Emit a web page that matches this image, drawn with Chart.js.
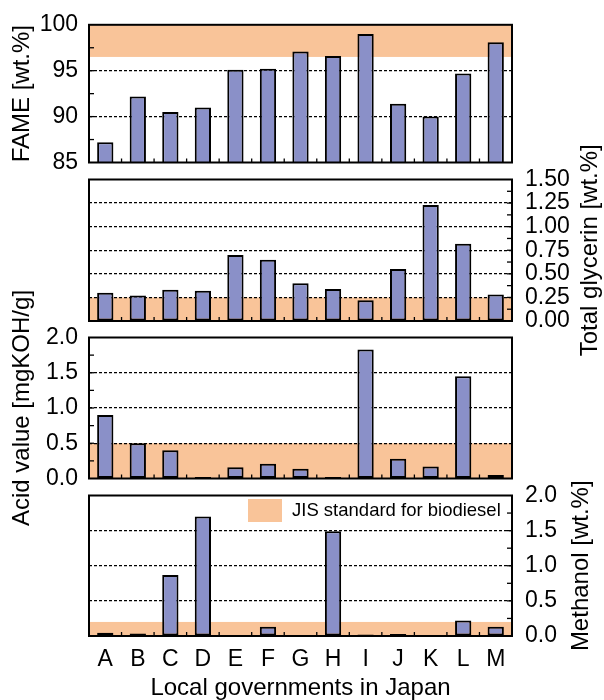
<!DOCTYPE html>
<html>
<head>
<meta charset="utf-8">
<title>Biodiesel quality by local government</title>
<script src="https://cdn.jsdelivr.net/npm/chart.js@4.4.1/dist/chart.umd.min.js"></script>
<style>
  body { margin: 0; background: #fff; }
  #wrap { position: relative; width: 604px; height: 700px; }
  #wrap canvas { position: absolute; left: 0; top: 0; }
</style>
</head>
<body>
<div id="wrap">
  <canvas id="fame" width="604" height="700"></canvas>
  <canvas id="glycerin" width="604" height="700"></canvas>
  <canvas id="acid" width="604" height="700"></canvas>
  <canvas id="methanol" width="604" height="700"></canvas>
</div>
<script>
//------------------ data ------------------//
const LABELS = ['A', 'B', 'C', 'D', 'E', 'F', 'G', 'H', 'I', 'J', 'K', 'L', 'M']
const FAME = [87.2, 92.2, 90.5, 91.0, 95.1, 95.2, 97.1, 96.6, 99.0, 91.4, 90.0, 94.7, 98.1]
const GLYCERIN = [0.30, 0.27, 0.33, 0.32, 0.70, 0.65, 0.40, 0.34, 0.22, 0.55, 1.23, 0.82, 0.28]
const ACID = [0.90, 0.50, 0.40, 0.02, 0.16, 0.21, 0.14, 0.02, 1.83, 0.28, 0.17, 1.45, 0.05]
const METHANOL = [0.045, 0.035, 0.87, 1.70, 0, 0.13, 0.01, 1.49, 0.02, 0.03, 0.01, 0.22, 0.13]

// JIS standard range [low, high]
const FAME_STD = [96.5, 100]
const GLYCERIN_STD = [0, 0.25]
const ACID_STD = [0, 0.5]
const METHANOL_STD = [0, 0.2]

// axis [min, max, step]
const FAME_AXIS = [85, 100, 5]
const GLYCERIN_AXIS = [0, 1.5, 0.25]
const ACID_AXIS = [0, 2, 0.5]
const METHANOL_AXIS = [0, 2, 0.5]

const X_TITLE = 'Local governments in Japan'
const LEGEND_TEXT = 'JIS standard for biodiesel'
//------------------------------------------//

const FONT = "'Liberation Sans', Arial, sans-serif"
const BAR_COLOR = '#8a90c8'
const STD_COLOR = '#f9c499'
const PLOT_LEFT = 89
const PLOT_RIGHT = 512

const PANELS = [
  { id: 'fame', data: FAME, std: FAME_STD, axis: FAME_AXIS, digits: 0, side: 'left',
    title: 'FAME [wt.%]', titleX: 22, top: 21.5, bottom: 162.5 },
  { id: 'glycerin', data: GLYCERIN, std: GLYCERIN_STD, axis: GLYCERIN_AXIS, digits: 2, side: 'right',
    title: 'Total glycerin [wt.%]', titleX: 590, top: 179.5, bottom: 321 },
  { id: 'acid', data: ACID, std: ACID_STD, axis: ACID_AXIS, digits: 1, side: 'left',
    title: 'Acid value [mgKOH/g]', titleX: 22, top: 337.5, bottom: 478.5 },
  { id: 'methanol', data: METHANOL, std: METHANOL_STD, axis: METHANOL_AXIS, digits: 1, side: 'right',
    title: 'Methanol [wt.%]', titleX: 581, top: 495.5, bottom: 636, last: true }
]

/*--------------------------------------------------------------------
band, inner ticks, frame and texts around each panel
--------------------------------------------------------------------*/
const panelDecor = {
  id: 'panelDecor',
  beforeDraw(chart, args, opts) {
    const { ctx, chartArea: a, scales: { y } } = chart
    const yHi = y.getPixelForValue(opts.std[1])
    const yLo = y.getPixelForValue(opts.std[0])
    ctx.save()
    ctx.fillStyle = STD_COLOR
    ctx.fillRect(a.left, yHi, a.right - a.left, yLo - yHi)
    ctx.restore()
  },
  afterDraw(chart, args, opts) {
    const { ctx, chartArea: a, scales: { x, y } } = chart
    const line = (x1, y1, x2, y2) => {
      ctx.beginPath(); ctx.moveTo(x1, y1); ctx.lineTo(x2, y2); ctx.stroke()
    }
    ctx.save()
    ctx.strokeStyle = '#000'
    ctx.lineWidth = 1.3

    // y ticks pointing inward, every half step
    const [min, max, step] = opts.axis
    const x0 = opts.side == 'left' ? a.left : a.right
    const dir = opts.side == 'left' ? 1 : -1
    for (let v = min + step / 2; v < max - 1e-9; v += step / 2) {
      const py = y.getPixelForValue(v)
      line(x0, py, x0 + dir * 5, py)
    }
    // x ticks between categories
    for (let i = 0; i < LABELS.length - 1; i++) {
      const px = (x.getPixelForValue(i) + x.getPixelForValue(i + 1)) / 2
      line(px, a.bottom, px, a.bottom - 4)
    }
    // frame
    ctx.lineWidth = 2
    ctx.strokeRect(a.left, a.top, a.right - a.left, a.bottom - a.top)

    // axis title (reads bottom to top on both sides)
    ctx.fillStyle = '#000'
    ctx.font = '24px ' + FONT
    ctx.textAlign = 'center'
    ctx.textBaseline = 'middle'
    ctx.save()
    ctx.translate(opts.titleX, (a.top + a.bottom) / 2)
    ctx.rotate(-Math.PI / 2)
    ctx.fillText(opts.title, 0, 0)
    ctx.restore()

    if (opts.last) {
      ctx.fillText(X_TITLE, (a.left + a.right) / 2, 688)
      // legend
      ctx.fillStyle = STD_COLOR
      ctx.fillRect(248, 499, 34, 23)
      ctx.fillStyle = '#000'
      ctx.font = '18.5px ' + FONT
      ctx.textAlign = 'left'
      ctx.fillText(LEGEND_TEXT, 292, 511)
    }
    ctx.restore()
  }
}

PANELS.forEach(makePanel)

function makePanel(p) {
  const [min, max, step] = p.axis
  const left = p.side == 'left'
  // y axis box takes the whole margin on its side, so its labels are not clipped
  const yWidth = left ? PLOT_LEFT : 604 - PLOT_RIGHT
  const xHeight = p.last ? 700 - p.bottom : 0
  new Chart(document.getElementById(p.id), {
    type: 'bar',
    data: {
      labels: LABELS,
      datasets: [{
        data: p.data,
        backgroundColor: BAR_COLOR,
        borderColor: '#000',
        borderWidth: 2,
        borderSkipped: false,
        barPercentage: 0.5,
        categoryPercentage: 1.0
      }]
    },
    options: {
      responsive: false,
      animation: false,
      events: [],
      layout: {
        padding: {
          left: left ? 0 : PLOT_LEFT,
          right: left ? 604 - PLOT_RIGHT : 0,
          top: p.top,
          bottom: 700 - p.bottom - xHeight
        }
      },
      plugins: {
        legend: { display: false },
        tooltip: { enabled: false },
        panelDecor: p
      },
      scales: {
        x: {
          display: p.last ? true : false,
          grid: { display: false, drawTicks: false },
          border: { display: false },
          ticks: { color: '#000', padding: 10, font: { family: FONT, size: 23 }, autoSkip: false, maxRotation: 0 },
          afterFit: s => { s.height = xHeight }
        },
        y: {
          position: p.side,
          min: min,
          max: max,
          grid: {
            drawTicks: false,
            lineWidth: 1.2,
            color: c => (Math.abs(c.tick.value - min) < 1e-9 || Math.abs(c.tick.value - max) < 1e-9) ? 'rgba(0,0,0,0)' : '#000'
          },
          border: { display: false, dash: [3, 2] },
          ticks: {
            stepSize: step,
            autoSkip: false,
            color: '#000',
            padding: left ? 11 : 13,
            font: { family: FONT, size: 23 },
            callback: v => v.toFixed(p.digits)
          },
          afterFit: s => { s.width = yWidth }
        }
      }
    },
    plugins: [panelDecor]
  })
}
</script>
</body>
</html>
